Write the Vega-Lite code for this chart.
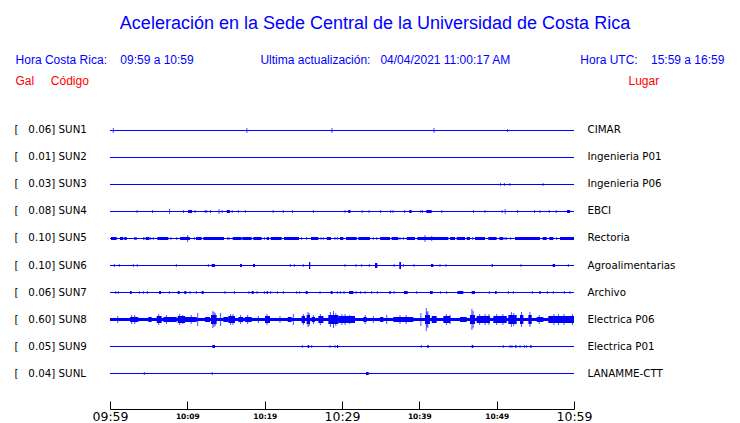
{
"$schema": "https://vega.github.io/schema/vega-lite/v6.json",
"width": 464, "height": 314,
"autosize": {"type": "none"},
"padding": {"left": 110, "top": 95, "right": 166, "bottom": 14},
"background": "white",
"config": {"view": {"stroke": null}, "scale": {"bandPaddingInner": 0, "bandPaddingOuter": 0.81481}},
"title": {"text": "Aceleración en la Sede Central de la Universidad de Costa Rica",
  "subtitle": "Hora Costa Rica:\u00a0\u00a0\u00a0\u00a009:59 a 10:59\u00a0\u00a0\u00a0\u00a0\u00a0\u00a0\u00a0\u00a0\u00a0\u00a0\u00a0\u00a0\u00a0\u00a0\u00a0\u00a0\u00a0\u00a0\u00a0\u00a0Ultima actualización:\u00a0\u00a0\u00a004/04/2021 11:00:17 AM\u00a0\u00a0\u00a0\u00a0\u00a0\u00a0\u00a0\u00a0\u00a0\u00a0\u00a0\u00a0\u00a0\u00a0\u00a0\u00a0\u00a0\u00a0\u00a0\u00a0\u00a0Hora UTC:\u00a0\u00a0\u00a0\u00a015:59 a 16:59\u00a0\u00a0\u00a0\u200b",
  "anchor": "middle", "frame": "group", "dx": 33, "offset": 8,
  "font": "Liberation Sans", "fontSize": 18, "fontWeight": "normal", "color": "#0000ff",
  "subtitleFont": "Liberation Sans", "subtitleFontSize": 12, "subtitleColor": "#0000ff", "subtitlePadding": 22},
"datasets": {
 "st": [
  {"c":"SUN1","lab":"[\u00a0\u00a0\u00a00.06] SUN1","lugar":"CIMAR"},
  {"c":"SUN2","lab":"[\u00a0\u00a0\u00a00.01] SUN2","lugar":"Ingenieria P01"},
  {"c":"SUN3","lab":"[\u00a0\u00a0\u00a00.03] SUN3","lugar":"Ingenieria P06"},
  {"c":"SUN4","lab":"[\u00a0\u00a0\u00a00.08] SUN4","lugar":"EBCI"},
  {"c":"SUN5","lab":"[\u00a0\u00a0\u00a00.10] SUN5","lugar":"Rectoria"},
  {"c":"SUN6","lab":"[\u00a0\u00a0\u00a00.10] SUN6","lugar":"Agroalimentarias"},
  {"c":"SUN7","lab":"[\u00a0\u00a0\u00a00.06] SUN7","lugar":"Archivo"},
  {"c":"SUN8","lab":"[\u00a0\u00a0\u00a00.60] SUN8","lugar":"Electrica P06"},
  {"c":"SUN9","lab":"[\u00a0\u00a0\u00a00.05] SUN9","lugar":"Electrica P01"},
  {"c":"SUNL","lab":"[\u00a0\u00a0\u00a00.04] SUNL","lugar":"LANAMME-CTT"}
 ],
 "blk": [
  {"c":"SUN4","t0":10.1,"t1":10.6,"a":3},{"c":"SUN4","t0":15.1,"t1":15.5,"a":3},{"c":"SUN4","t0":30.8,"t1":31.1,"a":3},{"c":"SUN4","t0":38.7,"t1":39.0,"a":3},{"c":"SUN4","t0":40.9,"t1":41.6,"a":3},{"c":"SUN4","t0":59.1,"t1":59.5,"a":3},
  {"c":"SUN5","t0":0.13,"t1":0.86,"a":3},{"c":"SUN5","t0":1.29,"t1":1.72,"a":3},{"c":"SUN5","t0":1.85,"t1":2.16,"a":3},{"c":"SUN5","t0":3.15,"t1":3.32,"a":3},{"c":"SUN5","t0":4.31,"t1":4.44,"a":3},{"c":"SUN5","t0":4.61,"t1":5.09,"a":3},{"c":"SUN5","t0":6.12,"t1":7.54,"a":3},{"c":"SUN5","t0":9.05,"t1":10.34,"a":3},{"c":"SUN5","t0":11.12,"t1":11.85,"a":3},{"c":"SUN5","t0":12.07,"t1":14.74,"a":3},{"c":"SUN5","t0":15.86,"t1":17.03,"a":3},{"c":"SUN5","t0":17.11,"t1":18.32,"a":3},{"c":"SUN5","t0":18.53,"t1":19.61,"a":3},{"c":"SUN5","t0":20.26,"t1":20.56,"a":3},{"c":"SUN5","t0":20.78,"t1":22.2,"a":3},{"c":"SUN5","t0":22.5,"t1":24.44,"a":3},{"c":"SUN5","t0":25.99,"t1":26.94,"a":3},{"c":"SUN5","t0":28.02,"t1":28.58,"a":3},{"c":"SUN5","t0":29.74,"t1":30.17,"a":3},{"c":"SUN5","t0":30.52,"t1":31.9,"a":3},{"c":"SUN5","t0":32.11,"t1":33.62,"a":3},{"c":"SUN5","t0":34.92,"t1":36.21,"a":3},{"c":"SUN5","t0":36.42,"t1":37.29,"a":3},{"c":"SUN5","t0":38.36,"t1":39.44,"a":3},{"c":"SUN5","t0":39.74,"t1":43.75,"a":3},{"c":"SUN5","t0":43.97,"t1":44.61,"a":3},{"c":"SUN5","t0":44.83,"t1":45.91,"a":3},{"c":"SUN5","t0":46.12,"t1":46.55,"a":3},{"c":"SUN5","t0":47.2,"t1":48.49,"a":3},{"c":"SUN5","t0":48.92,"t1":50.0,"a":3},{"c":"SUN5","t0":50.35,"t1":50.86,"a":3},{"c":"SUN5","t0":52.37,"t1":55.6,"a":3},{"c":"SUN5","t0":55.95,"t1":56.47,"a":3},{"c":"SUN5","t0":56.81,"t1":57.33,"a":3},{"c":"SUN5","t0":58.19,"t1":60,"a":3},
  {"c":"SUN6","t0":13.15,"t1":13.58,"a":3},{"c":"SUN6","t0":16.81,"t1":17.07,"a":3},{"c":"SUN6","t0":18.49,"t1":18.75,"a":3},{"c":"SUN6","t0":25.73,"t1":25.9,"a":7},{"c":"SUN6","t0":34.27,"t1":34.57,"a":5},{"c":"SUN6","t0":37.41,"t1":37.63,"a":7},{"c":"SUN6","t0":41.51,"t1":41.81,"a":3},{"c":"SUN6","t0":49.35,"t1":49.5,"a":3},{"c":"SUN6","t0":57.24,"t1":57.55,"a":3},
  {"c":"SUN7","t0":2.59,"t1":2.8,"a":3},{"c":"SUN7","t0":6.34,"t1":6.6,"a":3},{"c":"SUN7","t0":8.75,"t1":9.01,"a":3},{"c":"SUN7","t0":9.61,"t1":9.87,"a":3},{"c":"SUN7","t0":11.85,"t1":12.11,"a":3},{"c":"SUN7","t0":18.32,"t1":18.58,"a":3},{"c":"SUN7","t0":20.26,"t1":20.43,"a":3},{"c":"SUN7","t0":25.3,"t1":25.56,"a":3},{"c":"SUN7","t0":28.54,"t1":28.79,"a":3},{"c":"SUN7","t0":30.91,"t1":31.47,"a":3},{"c":"SUN7","t0":36.12,"t1":36.3,"a":3},{"c":"SUN7","t0":38.02,"t1":38.49,"a":3},{"c":"SUN7","t0":41.38,"t1":41.73,"a":3},{"c":"SUN7","t0":44.92,"t1":45.69,"a":3},{"c":"SUN7","t0":46.77,"t1":47.2,"a":3},{"c":"SUN7","t0":49.79,"t1":50.0,"a":3},{"c":"SUN7","t0":55.52,"t1":55.69,"a":3},
  {"c":"SUN8","t0":0,"t1":60,"a":3},{"c":"SUN8","t0":2.59,"t1":3.66,"a":5},{"c":"SUN8","t0":4.96,"t1":5.39,"a":5},{"c":"SUN8","t0":6.04,"t1":6.68,"a":7},{"c":"SUN8","t0":6.9,"t1":8.62,"a":5},{"c":"SUN8","t0":8.75,"t1":9.7,"a":7},{"c":"SUN8","t0":9.7,"t1":11.21,"a":5},{"c":"SUN8","t0":12.28,"t1":12.93,"a":5},{"c":"SUN8","t0":13.06,"t1":13.79,"a":9},{"c":"SUN8","t0":14.66,"t1":15.3,"a":5},{"c":"SUN8","t0":15.3,"t1":16.16,"a":7},{"c":"SUN8","t0":16.6,"t1":17.24,"a":5},{"c":"SUN8","t0":17.46,"t1":18.32,"a":5},{"c":"SUN8","t0":20.04,"t1":20.69,"a":7},{"c":"SUN8","t0":22.98,"t1":23.49,"a":5},{"c":"SUN8","t0":24.78,"t1":25.22,"a":7},{"c":"SUN8","t0":25.43,"t1":25.86,"a":9},{"c":"SUN8","t0":26.08,"t1":26.51,"a":5},{"c":"SUN8","t0":26.94,"t1":27.59,"a":7},{"c":"SUN8","t0":28.23,"t1":29.53,"a":9},{"c":"SUN8","t0":29.53,"t1":31.68,"a":7},{"c":"SUN8","t0":32.76,"t1":33.19,"a":5},{"c":"SUN8","t0":34.92,"t1":35.35,"a":5},{"c":"SUN8","t0":36.64,"t1":39.22,"a":5},{"c":"SUN8","t0":40.73,"t1":41.38,"a":9},{"c":"SUN8","t0":41.6,"t1":42.24,"a":7},{"c":"SUN8","t0":43.1,"t1":43.97,"a":7},{"c":"SUN8","t0":45.26,"t1":46.12,"a":5},{"c":"SUN8","t0":46.55,"t1":47.2,"a":9},{"c":"SUN8","t0":47.41,"t1":49.14,"a":7},{"c":"SUN8","t0":49.57,"t1":51.3,"a":7},{"c":"SUN8","t0":51.51,"t1":52.59,"a":9},{"c":"SUN8","t0":53.02,"t1":53.45,"a":9},{"c":"SUN8","t0":54.1,"t1":54.53,"a":9},{"c":"SUN8","t0":55.18,"t1":56.04,"a":5},{"c":"SUN8","t0":56.68,"t1":60,"a":7},
  {"c":"SUN9","t0":13.23,"t1":13.58,"a":3},{"c":"SUN9","t0":25.55,"t1":25.75,"a":3},{"c":"SUN9","t0":29.35,"t1":29.5,"a":3},{"c":"SUN9","t0":41.03,"t1":41.21,"a":3},{"c":"SUN9","t0":46.77,"t1":46.98,"a":3},{"c":"SUN9","t0":52.4,"t1":52.55,"a":3},{"c":"SUN9","t0":54.35,"t1":54.5,"a":3},
  {"c":"SUNL","t0":33.1,"t1":33.45,"a":3}
 ],
 "spk": [
  {"c":"SUN1","t":0.43,"a":5},{"c":"SUN1","t":17.7,"a":5},{"c":"SUN1","t":28.7,"a":5},{"c":"SUN1","t":41.9,"a":5},{"c":"SUN1","t":51.4,"a":3},
  {"c":"SUN3","t":50.5,"a":3},{"c":"SUN3","t":51.0,"a":3},{"c":"SUN3","t":51.7,"a":3},{"c":"SUN3","t":56.0,"a":3},
  {"c":"SUN4","t":3.5,"a":3},{"c":"SUN4","t":5.5,"a":3},{"c":"SUN4","t":7.7,"a":5},{"c":"SUN4","t":9.5,"a":3},{"c":"SUN4","t":11.0,"a":3},{"c":"SUN4","t":12.3,"a":3},{"c":"SUN4","t":12.5,"a":3},{"c":"SUN4","t":13.0,"a":3},{"c":"SUN4","t":14.1,"a":5},{"c":"SUN4","t":14.5,"a":3},{"c":"SUN4","t":15.8,"a":3},{"c":"SUN4","t":16.6,"a":3},{"c":"SUN4","t":17.5,"a":3},{"c":"SUN4","t":21.1,"a":3},{"c":"SUN4","t":22.4,"a":3},{"c":"SUN4","t":23.6,"a":3},{"c":"SUN4","t":26.3,"a":3},{"c":"SUN4","t":30.4,"a":3},{"c":"SUN4","t":32.6,"a":3},{"c":"SUN4","t":33.5,"a":3},{"c":"SUN4","t":35.0,"a":3},{"c":"SUN4","t":36.3,"a":3},{"c":"SUN4","t":36.6,"a":3},{"c":"SUN4","t":38.1,"a":3},{"c":"SUN4","t":40.2,"a":3},{"c":"SUN4","t":40.4,"a":3},{"c":"SUN4","t":42.9,"a":3},{"c":"SUN4","t":47.0,"a":3},{"c":"SUN4","t":48.5,"a":3},{"c":"SUN4","t":50.7,"a":3},{"c":"SUN4","t":51.1,"a":5},{"c":"SUN4","t":52.7,"a":3},{"c":"SUN4","t":54.9,"a":3},{"c":"SUN4","t":55.6,"a":3},{"c":"SUN4","t":56.8,"a":3},{"c":"SUN4","t":57.7,"a":3},
  {"c":"SUN5","t":3.45,"a":3},{"c":"SUN5","t":5.26,"a":3},{"c":"SUN5","t":5.6,"a":3},{"c":"SUN5","t":7.89,"a":3},{"c":"SUN5","t":8.62,"a":3},{"c":"SUN5","t":10.04,"a":7},{"c":"SUN5","t":10.9,"a":3},{"c":"SUN5","t":15.22,"a":3},{"c":"SUN5","t":15.39,"a":3},{"c":"SUN5","t":19.96,"a":3},{"c":"SUN5","t":24.78,"a":3},{"c":"SUN5","t":25.43,"a":3},{"c":"SUN5","t":27.29,"a":3},{"c":"SUN5","t":27.59,"a":3},{"c":"SUN5","t":29.1,"a":3},{"c":"SUN5","t":29.4,"a":3},{"c":"SUN5","t":34.05,"a":3},{"c":"SUN5","t":34.48,"a":3},{"c":"SUN5","t":37.5,"a":3},{"c":"SUN5","t":37.93,"a":3},{"c":"SUN5","t":40.73,"a":7},{"c":"SUN5","t":41.6,"a":5},{"c":"SUN5","t":46.9,"a":3},{"c":"SUN5","t":51.08,"a":3},{"c":"SUN5","t":51.3,"a":3},{"c":"SUN5","t":51.81,"a":3},{"c":"SUN5","t":57.76,"a":3},
  {"c":"SUN6","t":0.56,"a":3},{"c":"SUN6","t":1.21,"a":3},{"c":"SUN6","t":3.02,"a":3},{"c":"SUN6","t":3.53,"a":3},{"c":"SUN6","t":8.58,"a":3},{"c":"SUN6","t":12.72,"a":3},{"c":"SUN6","t":23.32,"a":3},{"c":"SUN6","t":23.84,"a":3},{"c":"SUN6","t":25.0,"a":3},{"c":"SUN6","t":30.39,"a":3},{"c":"SUN6","t":31.81,"a":3},{"c":"SUN6","t":32.54,"a":3},{"c":"SUN6","t":33.53,"a":3},{"c":"SUN6","t":36.73,"a":3},{"c":"SUN6","t":37.93,"a":3},{"c":"SUN6","t":39.31,"a":3},{"c":"SUN6","t":42.67,"a":3},{"c":"SUN6","t":43.45,"a":3},{"c":"SUN6","t":53.15,"a":3},{"c":"SUN6","t":59.27,"a":3},
  {"c":"SUN7","t":0.73,"a":3},{"c":"SUN7","t":1.08,"a":3},{"c":"SUN7","t":3.79,"a":3},{"c":"SUN7","t":4.31,"a":3},{"c":"SUN7","t":4.83,"a":3},{"c":"SUN7","t":7.67,"a":3},{"c":"SUN7","t":10.34,"a":3},{"c":"SUN7","t":11.16,"a":3},{"c":"SUN7","t":14.87,"a":3},{"c":"SUN7","t":16.08,"a":3},{"c":"SUN7","t":17.97,"a":3},{"c":"SUN7","t":19.01,"a":3},{"c":"SUN7","t":19.96,"a":3},{"c":"SUN7","t":20.78,"a":3},{"c":"SUN7","t":21.64,"a":3},{"c":"SUN7","t":22.41,"a":3},{"c":"SUN7","t":24.14,"a":3},{"c":"SUN7","t":24.53,"a":3},{"c":"SUN7","t":27.16,"a":3},{"c":"SUN7","t":29.4,"a":3},{"c":"SUN7","t":29.79,"a":3},{"c":"SUN7","t":30.26,"a":3},{"c":"SUN7","t":31.81,"a":3},{"c":"SUN7","t":32.42,"a":3},{"c":"SUN7","t":32.98,"a":3},{"c":"SUN7","t":33.84,"a":3},{"c":"SUN7","t":34.57,"a":3},{"c":"SUN7","t":36.73,"a":3},{"c":"SUN7","t":39.66,"a":3},{"c":"SUN7","t":42.76,"a":3},{"c":"SUN7","t":43.54,"a":3},{"c":"SUN7","t":49.05,"a":3},{"c":"SUN7","t":51.51,"a":3},{"c":"SUN7","t":52.16,"a":3},{"c":"SUN7","t":54.61,"a":3},{"c":"SUN7","t":56.55,"a":3},{"c":"SUN7","t":57.33,"a":3},{"c":"SUN7","t":58.75,"a":3},{"c":"SUN7","t":59.48,"a":3},
  {"c":"SUN8","t":1.0,"a":7},{"c":"SUN8","t":2.8,"a":9},{"c":"SUN8","t":3.2,"a":9},{"c":"SUN8","t":6.3,"a":11},{"c":"SUN8","t":7.3,"a":9},{"c":"SUN8","t":9.0,"a":11},{"c":"SUN8","t":9.4,"a":9},{"c":"SUN8","t":10.5,"a":9},{"c":"SUN8","t":11.34,"a":13},{"c":"SUN8","t":13.3,"a":17},{"c":"SUN8","t":13.45,"a":15},{"c":"SUN8","t":13.6,"a":13},{"c":"SUN8","t":14.3,"a":13},{"c":"SUN8","t":15.6,"a":11},{"c":"SUN8","t":15.9,"a":11},{"c":"SUN8","t":16.9,"a":9},{"c":"SUN8","t":17.8,"a":9},{"c":"SUN8","t":19.18,"a":7},{"c":"SUN8","t":20.3,"a":11},{"c":"SUN8","t":21.98,"a":7},{"c":"SUN8","t":23.71,"a":11},{"c":"SUN8","t":25.0,"a":11},{"c":"SUN8","t":25.6,"a":15},{"c":"SUN8","t":25.75,"a":13},{"c":"SUN8","t":26.3,"a":9},{"c":"SUN8","t":27.2,"a":11},{"c":"SUN8","t":28.5,"a":15},{"c":"SUN8","t":28.9,"a":17},{"c":"SUN8","t":29.2,"a":13},{"c":"SUN8","t":30.0,"a":11},{"c":"SUN8","t":30.4,"a":11},{"c":"SUN8","t":31.0,"a":9},{"c":"SUN8","t":33.0,"a":9},{"c":"SUN8","t":34.05,"a":7},{"c":"SUN8","t":35.78,"a":9},{"c":"SUN8","t":37.5,"a":9},{"c":"SUN8","t":38.3,"a":9},{"c":"SUN8","t":40.2,"a":13},{"c":"SUN8","t":40.9,"a":23},{"c":"SUN8","t":41.0,"a":15},{"c":"SUN8","t":41.1,"a":17},{"c":"SUN8","t":43.5,"a":11},{"c":"SUN8","t":44.0,"a":9},{"c":"SUN8","t":46.8,"a":21},{"c":"SUN8","t":46.95,"a":17},{"c":"SUN8","t":47.8,"a":11},{"c":"SUN8","t":48.5,"a":11},{"c":"SUN8","t":49.0,"a":11},{"c":"SUN8","t":50.0,"a":11},{"c":"SUN8","t":50.8,"a":11},{"c":"SUN8","t":51.9,"a":15},{"c":"SUN8","t":52.2,"a":13},{"c":"SUN8","t":53.2,"a":15},{"c":"SUN8","t":54.3,"a":15},{"c":"SUN8","t":55.5,"a":9},{"c":"SUN8","t":57.4,"a":11},{"c":"SUN8","t":58.0,"a":11},{"c":"SUN8","t":58.7,"a":11},{"c":"SUN8","t":59.8,"a":11},
  {"c":"SUN9","t":24.87,"a":3},{"c":"SUN9","t":26.08,"a":3},{"c":"SUN9","t":28.45,"a":3},{"c":"SUN9","t":29.1,"a":3},{"c":"SUN9","t":40.26,"a":3},{"c":"SUN9","t":50.86,"a":3},{"c":"SUN9","t":51.73,"a":3},{"c":"SUN9","t":51.98,"a":3},{"c":"SUN9","t":53.02,"a":3},{"c":"SUN9","t":53.58,"a":3},{"c":"SUN9","t":53.88,"a":3},
  {"c":"SUNL","t":4.44,"a":3},{"c":"SUNL","t":13.23,"a":3}
 ]
},
"resolve": {"scale": {"y": "independent"}, "axis": {"y": "independent"}},
"layer": [
 {"data": {"name": "st"},
  "mark": {"type": "rule", "strokeOpacity": 0},
  "encoding": {
   "x": {"datum": 0, "type": "quantitative", "scale": {"domain": [0, 60], "nice": false, "zero": false},
    "axis": {"title": null, "values": [0,5,10,15,20,25,30,35,40,45,50,55,60], "grid": false,
     "domain": true, "domainColor": "black", "domainWidth": 1,
     "ticks": true, "tickColor": "black", "tickSize": -8, "tickWidth": 1,
     "labelExpr": "datum.value % 10 == 0 ? timeFormat(datetime(2021, 3, 4, 9, 59 + datum.value), '%H:%M') : ''",
     "labelFlush": false, "labelOverlap": false, "labelPadding": 15, "labelBaseline": "middle",
     "labelColor": "black", "labelFont": "DejaVu Sans",
     "labelFontSize": {"condition": {"test": "datum.value % 30 == 0", "value": 12.5}, "value": 7.5},
     "labelFontWeight": {"condition": {"test": "datum.value % 30 == 0", "value": "normal"}, "value": "bold"}}},
   "x2": {"datum": 60},
   "y": {"field": "lab", "type": "nominal", "sort": null, "scale": {"type": "band"},
    "axis": {"orient": "left", "ticks": false, "domain": false, "grid": false,
     "labelAlign": "left", "labelPadding": 96, "labelFont": "DejaVu Sans", "labelFontSize": 10.3,
     "labelColor": "black", "labelBaseline": "middle",
     "title": "Gal\u00a0\u00a0\u00a0\u00a0\u00a0Código", "titleAngle": 0, "titleAlign": "left", "titleBaseline": "middle",
     "titleX": -95, "titleY": -15, "titleColor": "#ff0000", "titleFont": "Liberation Sans",
     "titleFontSize": 12, "titleFontWeight": "normal"}}
  }},
 {"data": {"name": "st"},
  "mark": {"type": "rule", "strokeOpacity": 0},
  "encoding": {
   "x": {"datum": 0, "type": "quantitative"},
   "x2": {"datum": 60},
   "y": {"field": "lugar", "type": "nominal", "sort": null, "scale": {"type": "band"},
    "axis": {"orient": "right", "ticks": false, "domain": false, "grid": false,
     "labelAlign": "left", "labelPadding": 13, "labelFont": "DejaVu Sans", "labelFontSize": 10.3,
     "labelColor": "black", "labelBaseline": "middle",
     "title": "Lugar", "titleAngle": 0, "titleAlign": "left", "titleBaseline": "middle",
     "titleX": 54, "titleY": -15, "titleColor": "#ff0000", "titleFont": "Liberation Sans",
     "titleFontSize": 12, "titleFontWeight": "normal"}}
  }},
 {"layer": [
  {"data": {"name": "st"},
   "mark": {"type": "rule", "color": "#0000ff", "strokeWidth": 1.2},
   "encoding": {
    "x": {"datum": 0, "type": "quantitative"},
    "x2": {"datum": 60},
    "y": {"field": "c", "type": "nominal", "scale": {"type": "band"}, "axis": null}}},
  {"data": {"name": "blk"},
   "mark": {"type": "bar", "color": "#0000ff"},
   "encoding": {
    "x": {"field": "t0", "type": "quantitative", "title": null},
    "x2": {"field": "t1"},
    "y": {"field": "c", "type": "nominal", "scale": {"type": "band"}, "axis": null},
    "size": {"field": "a", "type": "quantitative", "scale": {"domain": [0, 30], "range": [0, 30]}, "legend": null}}},
  {"data": {"name": "spk"},
   "mark": {"type": "tick", "color": "#0000ff", "thickness": 1, "orient": "vertical"},
   "encoding": {
    "x": {"field": "t", "type": "quantitative", "title": null},
    "y": {"field": "c", "type": "nominal", "scale": {"type": "band"}, "axis": null},
    "size": {"field": "a", "type": "quantitative", "scale": {"domain": [0, 30], "range": [0, 30]}, "legend": null}}}
 ]}
]
}
